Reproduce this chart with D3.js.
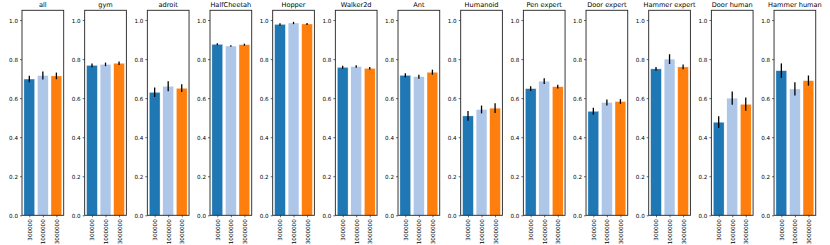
<!DOCTYPE html>
<html>
<head>
<meta charset="utf-8">
<script src="https://cdn.jsdelivr.net/npm/d3@7"></script>
<style>
  body { margin: 0; background: #fff; }
  svg text { font-family: "DejaVu Sans", sans-serif; fill: #000; }
</style>
</head>
<body>
<script>
// panel titles and bar categories
var titles = ["all", "gym", "adroit", "HalfCheetah", "Hopper", "Walker2d", "Ant",
  "Humanoid", "Pen expert", "Door expert", "Hammer expert", "Door human", "Hammer human"];
var sizes = ["300000", "1000000", "3000000"];
var colors = ["#1f77b4", "#aec7e8", "#ff7f0e"];

// mean scores per buffer size
var means300k = [0.698, 0.768, 0.630, 0.876, 0.978, 0.758, 0.717, 0.509, 0.649, 0.533, 0.750, 0.477, 0.741];
var means1m   = [0.716, 0.773, 0.661, 0.867, 0.985, 0.762, 0.710, 0.542, 0.687, 0.578, 0.800, 0.600, 0.647];
var means3m   = [0.714, 0.779, 0.651, 0.874, 0.980, 0.753, 0.733, 0.549, 0.659, 0.583, 0.760, 0.569, 0.690];

// error bar half-lengths
var err300k = [0.017, 0.010, 0.024, 0.005, 0.006, 0.008, 0.010, 0.025, 0.012, 0.018, 0.010, 0.030, 0.037];
var err1m   = [0.020, 0.009, 0.025, 0.004, 0.006, 0.006, 0.010, 0.020, 0.015, 0.015, 0.025, 0.034, 0.034];
var err3m   = [0.017, 0.009, 0.020, 0.005, 0.005, 0.006, 0.013, 0.025, 0.010, 0.012, 0.012, 0.034, 0.026];

var yTicks = [0, 0.2, 0.4, 0.6, 0.8, 1.0];

var w = 830, h = 245;
var left0 = 22, step = 62.67, pw = 41.7;
var plotTop = 10.3, plotBottom = 215.3;

var svg = d3.select("body").append("svg")
  .attr("width", w)
  .attr("height", h);

var y = d3.scaleLinear().domain([0, 1.05]).range([plotBottom, plotTop]);

titles.forEach(function(t, i) {
  var vals = [means300k[i], means1m[i], means3m[i]];
  var errs = [err300k[i], err1m[i], err3m[i]];
  var data = sizes.map(function(s, k) { return {size: s, v: vals[k], e: errs[k], c: colors[k]}; });

  var g = svg.append("g").attr("transform", "translate(" + (left0 + i * step) + ",0)");

  // matplotlib-like x: bars at 0,1,2 width 0.8 with 5% margins
  var x = d3.scaleLinear().domain([-0.54, 2.54]).range([0, pw]);

  g.selectAll("rect.bar")
    .data(data)
    .enter()
    .append("rect")
    .attr("class", "bar")
    .attr("x", function(d, k) { return x(k - 0.4); })
    .attr("width", x(0.8) - x(0))
    .attr("y", function(d) { return y(d.v); })
    .attr("height", function(d) { return y(0) - y(d.v); })
    .attr("fill", function(d) { return d.c; })
    .attr("stroke", "#fff")
    .attr("stroke-width", 0.4);

  g.selectAll("line.err")
    .data(data)
    .enter()
    .append("line")
    .attr("class", "err")
    .attr("x1", function(d, k) { return x(k); })
    .attr("x2", function(d, k) { return x(k); })
    .attr("y1", function(d) { return y(d.v - d.e); })
    .attr("y2", function(d) { return y(d.v + d.e); })
    .attr("stroke", "#000")
    .attr("stroke-width", 1.3);

  // y axis
  var yAxis = d3.axisLeft(y).tickValues(yTicks).tickFormat(d3.format(".1f")).tickSize(2).tickPadding(2);
  var ya = g.append("g").call(yAxis);
  ya.select(".domain").remove();
  ya.selectAll("text").style("font-size", "5.6px").attr("dy", "0.35em");
  ya.selectAll("line").attr("stroke", "#000").attr("stroke-width", 0.6);

  // x axis with rotated labels
  var xAxis = d3.axisBottom(x).tickValues([0, 1, 2]).tickFormat(function(d) { return sizes[d]; }).tickSize(2).tickPadding(2);
  var xa = g.append("g").attr("transform", "translate(0," + plotBottom + ")").call(xAxis);
  xa.select(".domain").remove();
  xa.selectAll("line").attr("stroke", "#000").attr("stroke-width", 0.6);
  xa.selectAll("text")
    .style("font-size", "5.6px")
    .attr("text-anchor", "end")
    .attr("transform", "rotate(-90)")
    .attr("x", -4)
    .attr("y", 0)
    .attr("dy", "0.35em");

  // frame
  g.append("rect")
    .attr("x", 0).attr("y", plotTop)
    .attr("width", pw).attr("height", plotBottom - plotTop)
    .attr("fill", "none")
    .attr("stroke", "#222")
    .attr("stroke-width", 0.9);

  g.append("text")
    .attr("x", pw / 2)
    .attr("y", plotTop - 3.3)
    .attr("text-anchor", "middle")
    .style("font-size", "6.6px")
    .text(t);
});
</script>
</body>
</html>
